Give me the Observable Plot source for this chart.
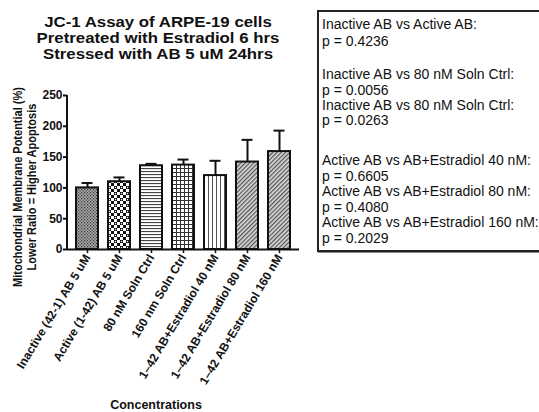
<!DOCTYPE html>
<html>
<head>
<meta charset="utf-8">
<script src="https://cdn.jsdelivr.net/npm/d3@7"></script>
<script src="https://cdn.jsdelivr.net/npm/@observablehq/plot@0.6"></script>
<style>
  body { margin: 0; background: #fff; font-family: "Liberation Sans", Arial, sans-serif; }
  #wrap { position: relative; width: 539px; height: 412px; overflow: hidden; background: #fff; }
  #wrap svg { position: absolute; left: 0; top: 0; }
  .title { position: absolute; left: 0; width: 316px; top: 14px; text-align: center; font-weight: bold; font-size: 14px; line-height: 16px; color: #111; transform: scaleX(1.2); transform-origin: 158px 0; }
  .ylab { position: absolute; left: 25px; top: 187px; width: 240px; transform: translate(-50%, -50%) rotate(-90deg) scaleX(0.88); text-align: center; font-weight: bold; font-size: 12.5px; line-height: 14px; color: #111; white-space: nowrap; }
  .xlab { position: absolute; left: 0; width: 312px; top: 398px; text-align: center; font-weight: bold; font-size: 12.5px; color: #111; }
  .box { position: absolute; left: 317px; top: 10px; width: 240px; height: 238px; border: 2px solid #222; box-shadow: 1px 1px 0 #888; font-size: 14px; color: #111; }
  .box div { position: absolute; left: 3px; white-space: nowrap; line-height: 14px; }
</style>
</head>
<body>
<div id="wrap">
  <div class="title">JC-1 Assay of ARPE-19 cells<br>Pretreated with Estradiol 6 hrs<br>Stressed with AB 5 uM 24hrs</div>
  <div class="ylab" id="ylab"></div>
  <div class="xlab" id="xlab"></div>
  <div class="box" id="box"></div>
</div>
<script>
const categories = [
  "Inactive (42-1) AB 5 uM",
  "Active (1-42) AB 5 uM",
  "80 nM Soln Ctrl",
  "160 nm Soln Ctrl",
  "1–42 AB+Estradiol 40 nM",
  "1–42 AB+Estradiol 80 nM",
  "1–42 AB+Estradiol 160 nM"
];
const means = [100, 110, 136, 137, 120, 142, 159];
const errors = [8, 7, 3, 9, 24, 36, 34];
const yTicks = [0, 50, 100, 150, 200, 250];
const yLabelLines = ["Mitochondrial Membrane Potential (%)", "Lower Ratio = Higher Apoptosis"];
const xLabel = "Concentrations";
const statLines = [
  "Inactive AB vs Active AB:",
  "p = 0.4236",
  "",
  "Inactive AB vs 80 nM Soln Ctrl:",
  "p = 0.0056",
  "Inactive AB vs 80 nM Soln Ctrl:",
  "p = 0.0263",
  "",
  "Active AB vs AB+Estradiol 40 nM:",
  "p = 0.6605",
  "Active AB vs AB+Estradiol 80 nM:",
  "p = 0.4080",
  "Active AB vs AB+Estradiol 160 nM:",
  "p = 0.2029"
];
const patternIds = ["pDots", "pChecker", "pHoriz", "pGrid", "pVert", "pDiag1", "pDiag2"];

const data = categories.map((c, i) => ({cat: c, mean: means[i], err: errors[i], hi: means[i] + errors[i], pat: patternIds[i]}));

// y-axis domain line drawn through the library's own y scale
function yAxisLine(index, scales, values, dimensions) {
  const y0 = scales.y(0), y1 = scales.y(250);
  const g = d3.create("svg:g");
  g.append("line")
    .attr("x1", dimensions.marginLeft).attr("x2", dimensions.marginLeft)
    .attr("y1", y0 + 1).attr("y2", y1)
    .attr("stroke", "#111").attr("stroke-width", 2);
  return g.node();
}

const chart = Plot.plot({
  width: 539,
  height: 412,
  marginLeft: 67,
  marginRight: 240,
  marginTop: 95,
  marginBottom: 163,
  style: {fontFamily: "Liberation Sans, Arial, sans-serif", fontWeight: "bold", fontSize: "12px", color: "#111", background: "transparent", overflow: "visible"},
  x: {domain: categories, paddingInner: 0.3, paddingOuter: 0.18, axis: null},
  y: {domain: [0, 250], axis: null},
  color: {type: "identity"},
  marks: [
    Plot.barY(data, {x: "cat", y: "mean", fill: d => `url(#${d.pat})`, stroke: "#111", strokeWidth: 2}),
    Plot.ruleX(data, {x: "cat", y1: "mean", y2: "hi", stroke: "#111", strokeWidth: 2}),
    Plot.tickY(data, {x: "cat", y: "hi", stroke: "#111", strokeWidth: 2, inset: 5.5}),
    Plot.axisY({ticks: yTicks, tickSize: 4, tickPadding: 1, tickFormat: d => d, stroke: "#111", strokeWidth: 2, fontSize: 12, fontWeight: "bold", label: null}),
    yAxisLine,
    Plot.ruleY([0], {stroke: "#111", strokeWidth: 2}),
    Plot.axisX({tickSize: 4, stroke: "#111", strokeWidth: 1.5, tickRotate: -59, tickPadding: 2, fontSize: 12, fontWeight: "bold", label: null, textAnchor: "end"})
  ]
});

const ns = "http://www.w3.org/2000/svg";
const defs = document.createElementNS(ns, "defs");
defs.innerHTML = `
  <pattern id="pDots" width="3" height="3" patternUnits="userSpaceOnUse">
    <rect width="3" height="3" fill="#aaa"/>
    <rect x="0" y="0" width="1.2" height="1.2" fill="#333"/>
    <rect x="1.5" y="1.5" width="1.2" height="1.2" fill="#333"/>
  </pattern>
  <pattern id="pChecker" width="6" height="6" patternUnits="userSpaceOnUse">
    <rect width="6" height="6" fill="#fff"/>
    <rect x="0" y="0" width="3" height="3" fill="#111"/>
    <rect x="3" y="3" width="3" height="3" fill="#111"/>
    <circle cx="1.5" cy="1.5" r="0.7" fill="#fff"/>
  </pattern>
  <pattern id="pHoriz" width="4" height="3" patternUnits="userSpaceOnUse">
    <rect width="4" height="3" fill="#fff"/>
    <rect x="0" y="0" width="4" height="1.1" fill="#444"/>
  </pattern>
  <pattern id="pGrid" width="4" height="4" patternUnits="userSpaceOnUse">
    <rect width="4" height="4" fill="#fff"/>
    <rect x="0" y="0" width="4" height="1" fill="#333"/>
    <rect x="0" y="0" width="1" height="4" fill="#333"/>
  </pattern>
  <pattern id="pVert" width="4" height="4" patternUnits="userSpaceOnUse">
    <rect width="4" height="4" fill="#fff"/>
    <rect x="0" y="0" width="1" height="4" fill="#555"/>
  </pattern>
  <pattern id="pDiag1" width="3" height="3" patternUnits="userSpaceOnUse" patternTransform="rotate(45)">
    <rect width="3" height="3" fill="#ddd"/>
    <rect x="0" y="0" width="1.3" height="3" fill="#555"/>
  </pattern>
  <pattern id="pDiag2" width="3" height="3" patternUnits="userSpaceOnUse" patternTransform="rotate(45)">
    <rect width="3" height="3" fill="#ddd"/>
    <rect x="0" y="0" width="1.3" height="3" fill="#555"/>
  </pattern>`;
chart.insertBefore(defs, chart.firstChild);

document.getElementById("wrap").appendChild(chart);
document.getElementById("ylab").innerHTML = yLabelLines.join("<br>");
document.getElementById("xlab").textContent = xLabel;

const box = document.getElementById("box");
const tops = [5, 22, 0, 55, 71, 86, 101, 0, 141, 157, 172, 188, 203, 219];
statLines.forEach((t, i) => {
  if (!t) return;
  const el = document.createElement("div");
  el.textContent = t;
  el.style.top = tops[i] + "px";
  box.appendChild(el);
});
</script>
</body>
</html>
